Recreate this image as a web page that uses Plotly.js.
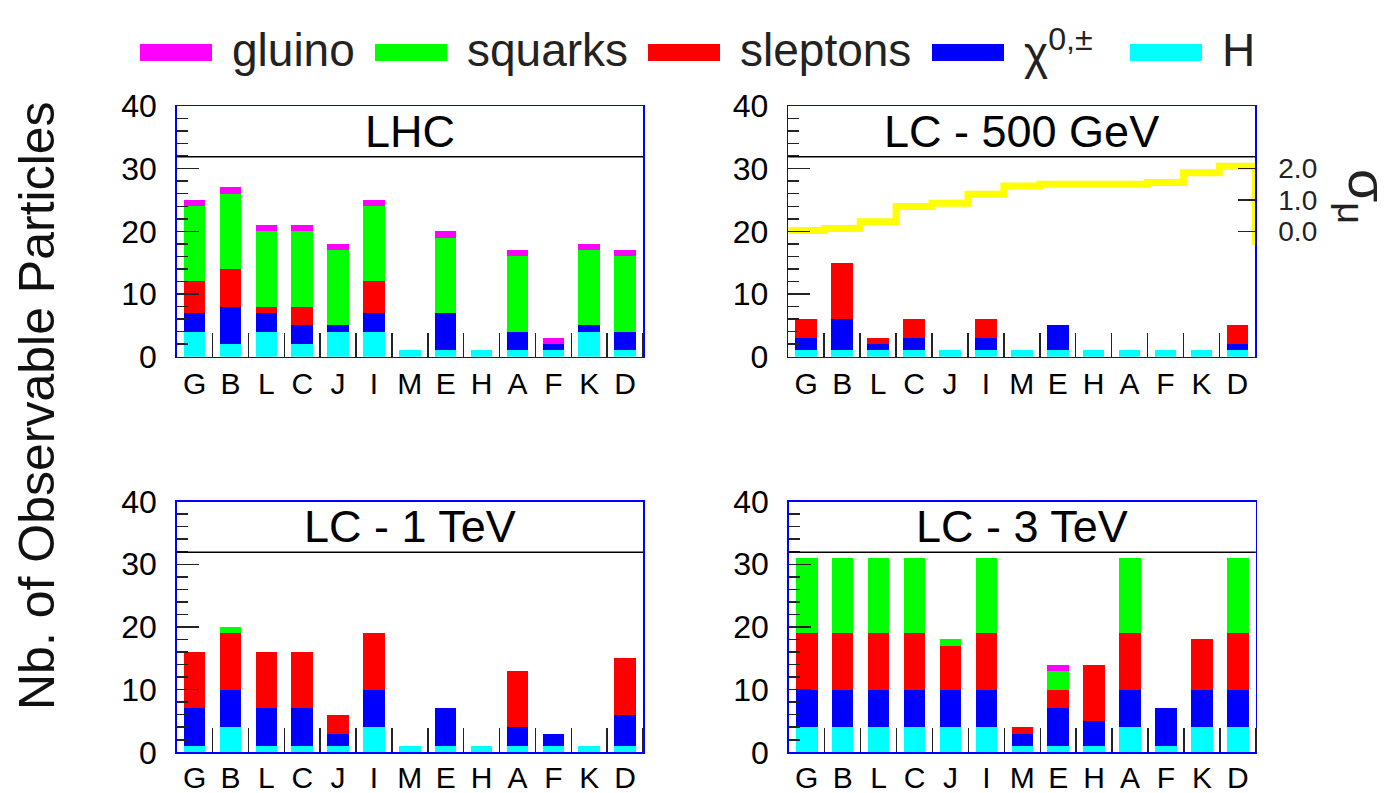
<!DOCTYPE html>
<html><head><meta charset="utf-8">
<script src="https://cdn.plot.ly/plotly-3.0.1.min.js"></script>
<style>body{margin:0;background:#fff}</style>
</head><body><div id="chart" style="width:1384px;height:793px"></div>
<script>
// ---------------- data ----------------
const models = ['G','B','L','C','J','I','M','E','H','A','F','K','D'];
const panelTitles = ['LHC', 'LC - 500 GeV', 'LC - 1 TeV', 'LC - 3 TeV'];
const seriesNames = ['gluino', 'squarks', 'sleptons', 'χ<sup>0,±</sup>', 'H'];
const seriesColors = ['#ff00ff', '#00ff00', '#ff0000', '#0000ff', '#00ffff'];

// LHC
const lhcHiggs    = [4,2,4,2,4,4,1,1,1,1,1,4,1];
const lhcChi      = [3,6,3,3,1,3,0,6,0,3,1,1,3];
const lhcSleptons = [5,6,1,3,0,5,0,0,0,0,0,0,0];
const lhcSquarks  = [12,12,12,12,12,12,0,12,0,12,0,12,12];
const lhcGluino   = [1,1,1,1,1,1,0,1,0,1,1,1,1];
// LC 500 GeV
const lc500Higgs    = [1,1,1,1,1,1,1,1,1,1,1,1,1];
const lc500Chi      = [2,5,1,2,0,2,0,4,0,0,0,0,1];
const lc500Sleptons = [3,9,1,3,0,3,0,0,0,0,0,0,3];
const lc500Squarks  = [0,0,0,0,0,0,0,0,0,0,0,0,0];
const lc500Gluino   = [0,0,0,0,0,0,0,0,0,0,0,0,0];
// LC 1 TeV
const lc1Higgs    = [1,4,1,1,1,4,1,1,1,1,1,1,1];
const lc1Chi      = [6,6,6,6,2,6,0,6,0,3,2,0,5];
const lc1Sleptons = [9,9,9,9,3,9,0,0,0,9,0,0,9];
const lc1Squarks  = [0,1,0,0,0,0,0,0,0,0,0,0,0];
const lc1Gluino   = [0,0,0,0,0,0,0,0,0,0,0,0,0];
// LC 3 TeV
const lc3Higgs    = [4,4,4,4,4,4,1,1,1,4,1,4,4];
const lc3Chi      = [6,6,6,6,6,6,2,6,4,6,6,6,6];
const lc3Sleptons = [9,9,9,9,7,9,1,3,9,9,0,8,9];
const lc3Squarks  = [12,12,12,12,1,12,0,3,0,12,0,0,12];
const lc3Gluino   = [0,0,0,0,0,0,0,1,0,0,0,0,0];

// sigma_mu step line (LC 500 GeV panel, right axis)
const sigmaMu = [0.03,0.09,0.31,0.79,0.90,1.18,1.45,1.50,1.50,1.50,1.56,1.87,2.08];
const sigmaMuEnd = -0.44;
const sigmaTicks = [0, 1, 2];
const sigmaTickText = ['0.0', '1.0', '2.0'];

// ---------------- layout constants ----------------
const W = 1384, H = 793;
const FONT = '"Liberation Sans", Arial, Helvetica, sans-serif';
const panelPx = [ // [left, right, top, bottom] in pixels
  [176.7, 643.0, 106.0, 356.7],
  [788.3, 1255.3, 106.0, 356.7],
  [176.7, 643.0, 501.6, 752.3],
  [788.8, 1255.8, 501.6, 752.3]
];
const labelStandoff = [0, 0, -2, -2];
const titleBoxBottom = 31.9;
const legendSwatchLeft = [140, 375, 648, 932, 1130];

const panels = [
  [lhcGluino, lhcSquarks, lhcSleptons, lhcChi, lhcHiggs],
  [lc500Gluino, lc500Squarks, lc500Sleptons, lc500Chi, lc500Higgs],
  [lc1Gluino, lc1Squarks, lc1Sleptons, lc1Chi, lc1Higgs],
  [lc3Gluino, lc3Squarks, lc3Sleptons, lc3Chi, lc3Higgs]
];

const idx = models.map((_, i) => i);
const boundaries = models.map((_, i) => i + 0.5);

const traces = [];
const layout = {
  width: W, height: H,
  margin: {l: 0, r: 0, t: 0, b: 0},
  paper_bgcolor: '#fff', plot_bgcolor: '#fff',
  barmode: 'stack', bargap: 0.4,
  showlegend: false,
  font: {family: FONT, color: '#000'},
  shapes: [], annotations: []
};

panels.forEach((series, p) => {
  const k = p + 1;
  const xa = 'x' + (k === 1 ? '' : k), ya = 'y' + (k === 1 ? '' : k);
  // stack from bottom (H) to top (gluino)
  for (let s = series.length - 1; s >= 0; s--) {
    traces.push({
      type: 'bar', x: idx, y: series[s], xaxis: xa, yaxis: ya,
      width: 0.6, marker: {color: seriesColors[s], line: {width: 0}},
      name: seriesNames[s], hoverinfo: 'skip'
    });
  }
  const [l, r, t, b] = panelPx[p];
  layout['xaxis' + (k === 1 ? '' : k)] = {
    domain: [l / W, r / W], anchor: ya, range: [-0.5, 12.5],
    tickmode: 'array', tickvals: idx, ticktext: models, ticks: '',
    tickfont: {size: 30, family: FONT, color: '#000'}, ticklabelstandoff: labelStandoff[p],
    minor: {tickmode: 'array', tickvals: boundaries, ticks: 'inside', ticklen: 24,
            tickwidth: 1.5, tickcolor: '#222'},
    showline: true, mirror: true, linecolor: '#0000ff', linewidth: 1.5,
    showgrid: false, zeroline: false, fixedrange: true
  };
  layout['yaxis' + (k === 1 ? '' : k)] = {
    domain: [1 - b / H, 1 - t / H], anchor: xa, range: [0, 40],
    tickmode: 'linear', tick0: 0, dtick: 10, ticks: 'inside', ticklen: 22,
    tickwidth: 1.5, tickcolor: '#222',
    minor: {dtick: 2, ticks: 'inside', ticklen: 11, tickwidth: 1.5, tickcolor: '#222'},
    tickfont: {size: 32, family: FONT, color: '#000'}, ticklabelstandoff: 12,
    showline: true, mirror: true, linecolor: '#0000ff', linewidth: 1.5,
    showgrid: false, zeroline: false, fixedrange: true
  };
  layout.shapes.push({
    type: 'line', xref: xa + ' domain', yref: ya, x0: 0, x1: 1,
    y0: titleBoxBottom, y1: titleBoxBottom, line: {color: '#000', width: 1.5}
  });
  layout.annotations.push({
    xref: xa + ' domain', yref: ya, x: 0.5, y: (titleBoxBottom + 40) / 2,
    text: panelTitles[p], showarrow: false, xanchor: 'center', yanchor: 'middle',
    font: {size: 45, family: FONT, color: '#000'}
  });
});

// sigma_mu step line on secondary axis of LC-500 panel
const stepX = models.map((_, i) => i - 0.5).concat([models.length - 0.5, models.length - 0.5]);
const stepY = sigmaMu.concat([sigmaMu[sigmaMu.length - 1], sigmaMuEnd]);
traces.push({
  type: 'scatter', mode: 'lines', x: stepX, y: stepY, xaxis: 'x2', yaxis: 'y5',
  line: {color: '#ffff00', width: 7, shape: 'hv'}, hoverinfo: 'skip'
});
layout.yaxis5 = {
  overlaying: 'y2', anchor: 'x2', side: 'right', range: [-4, 4],
  tickmode: 'array', tickvals: sigmaTicks, ticktext: sigmaTickText,
  ticks: 'inside', ticklen: 17, tickwidth: 1.5, tickcolor: '#222',
  tickfont: {size: 28, family: FONT, color: '#222'}, ticklabelstandoff: 22,
  showline: false, showgrid: false, zeroline: false, fixedrange: true
};
layout.annotations.push({
  xref: 'paper', yref: 'paper', x: 1364 / W, y: 1 - 196 / H,
  text: 'σ<sub>μ</sub>', textangle: 90, showarrow: false,
  xanchor: 'center', yanchor: 'middle',
  font: {size: 54, family: FONT, color: '#222'}
});

// global y title
layout.annotations.push({
  xref: 'paper', yref: 'paper', x: 37 / W, y: 1 - 406 / H,
  text: 'Nb. of Observable Particles', textangle: -90, showarrow: false,
  xanchor: 'center', yanchor: 'middle',
  font: {size: 50, family: FONT, color: '#111'}
});

// legend (manual, wide swatches)
seriesNames.forEach((name, s) => {
  const x0 = legendSwatchLeft[s];
  layout.shapes.push({
    type: 'rect', xref: 'paper', yref: 'paper',
    x0: x0 / W, x1: (x0 + 72) / W, y0: 1 - 61 / H, y1: 1 - 44 / H,
    fillcolor: seriesColors[s], line: {width: 0}
  });
  layout.annotations.push({
    xref: 'paper', yref: 'paper', x: (x0 + 90) / W, y: 1 - 50 / H,
    text: name, showarrow: false, xanchor: 'left', yanchor: 'middle',
    font: {size: 46, family: FONT, color: '#222'}
  });
});

Plotly.newPlot('chart', traces, layout, {staticPlot: true, displayModeBar: false});
</script></body></html>
